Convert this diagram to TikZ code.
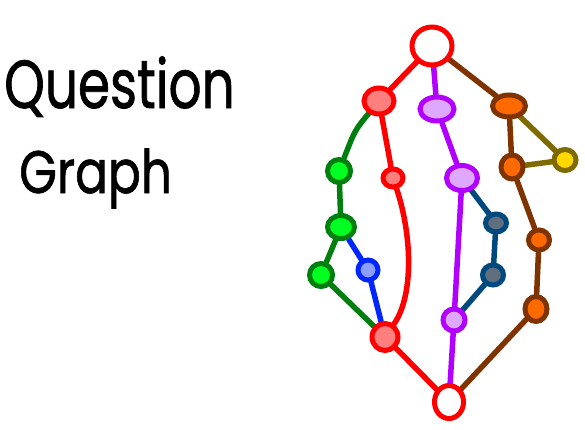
\documentclass[tikz,border=0pt]{standalone}
\usepackage{fontspec}
\setmainfont{Poppins}
\newfontfamily\handfont[FakeBold=1.2]{Poppins}
\usetikzlibrary{shapes.geometric}
\pgfdeclarelayer{bg}
\pgfsetlayers{bg,main}
\definecolor{cred}{HTML}{FF0000}
\definecolor{csalmon}{HTML}{FF7F7F}
\definecolor{cpurple}{HTML}{B200FF}
\definecolor{clilac}{HTML}{DFA8FF}
\definecolor{cbrown}{HTML}{7F3300}
\definecolor{corange}{HTML}{FF6A00}
\definecolor{cdgreen}{HTML}{007F0E}
\definecolor{cgreen}{HTML}{00FF21}
\definecolor{cblue}{HTML}{0026FF}
\definecolor{cpblue}{HTML}{8C9EFF}
\definecolor{cnavy}{HTML}{00497E}
\definecolor{cslate}{HTML}{5F6F7F}
\definecolor{colive}{HTML}{7F6A00}
\definecolor{cyellow}{HTML}{FFD800}
\tikzset{
  vtx/.style={ellipse, line width=5pt, inner sep=0pt},
  redwhite/.style={vtx, draw=cred, fill=white},
  redv/.style={vtx, draw=cred, fill=csalmon},
  purv/.style={vtx, draw=cpurple, fill=clilac},
  orv/.style={vtx, draw=cbrown, fill=corange},
  grv/.style={vtx, draw=cdgreen, fill=cgreen},
  blv/.style={vtx, draw=cblue, fill=cpblue},
  nvv/.style={vtx, draw=cnavy, fill=cslate},
  yev/.style={vtx, draw=colive, fill=cyellow},
  sz/.style 2 args={minimum width=#1pt, minimum height=#2pt},
  edge/.style={line width=5.5pt, line cap=round}
}
\begin{document}
\begin{tikzpicture}[x=1pt,y=-1pt]
\useasboundingbox (0,0) rectangle (585,429);
% title
\node[anchor=base west, inner sep=0pt] (t1) at (4,108) {\scalebox{0.76}[1]{\handfont\fontsize{68}{68}\selectfont Question}};
\node[anchor=base west, inner sep=0pt] (t2) at (19,193) {\scalebox{0.81}[1]{\handfont\fontsize{60}{60}\selectfont Graph}};
% nodes
\node[redwhite, sz={40}{38}] (top) at (432,46) {};
\node[redv, sz={30}{26}] (r1) at (379,101) {};
\node[purv, sz={34}{24}] (p1) at (437,109) {};
\node[orv, sz={33}{22}] (o1) at (509,106) {};
\node[grv, sz={23}{23}] (g1) at (339,171) {};
\node[redv, sz={20}{18}] (rs) at (393,178) {};
\node[purv, sz={31}{25}] (p2) at (462,178) {};
\node[orv, sz={22}{24}] (o2) at (512,167) {};
\node[yev, sz={22}{21}] (ye) at (565,160) {};
\node[grv, sz={27}{23}] (g2) at (341,227) {};
\node[grv, sz={23}{23}] (g3) at (321,275) {};
\node[blv, sz={20}{20}] (bl) at (368,270) {};
\node[redv, sz={26}{27}] (rb) at (385,337) {};
\node[purv, sz={22}{22}] (p3) at (454,320) {};
\node[nvv, sz={21}{18}] (d1) at (496,223) {};
\node[nvv, sz={21}{20}] (d2) at (493,275) {};
\node[orv, sz={21}{20}] (o3) at (539,240) {};
\node[orv, sz={22}{25}] (o4) at (536,309) {};
\node[redwhite, sz={29}{33}] (bot) at (449,402) {};
% edges
\begin{pgfonlayer}{bg}
\draw[edge, cred] (top) -- (r1);
\draw[edge, cpurple] (top) -- (p1);
\draw[edge, cbrown] (top) -- (o1);
\draw[edge, cdgreen] (r1) .. controls (355,130) .. (g1);
\draw[edge, cred] (r1) -- (rs);
\draw[edge, cred] (rs) .. controls (412,235) and (414,295) .. (rb);
\draw[edge, cdgreen] (g1) -- (g2);
\draw[edge, cdgreen] (g2) -- (g3);
\draw[edge, cblue] (g2) -- (bl);
\draw[edge, cblue] (bl) -- (rb);
\draw[edge, cdgreen] (g3) -- (rb);
\draw[edge, cred] (rb) -- (bot);
\draw[edge, cpurple] (p1) -- (p2);
\draw[edge, cpurple] (p2) -- (p3);
\draw[edge, cpurple] (p3) -- (bot);
\draw[edge, cnavy] (p2) -- (d1);
\draw[edge, cnavy] (d1) -- (d2);
\draw[edge, cnavy] (d2) -- (p3);
\draw[edge, cbrown] (o1) -- (o2);
\draw[edge, colive] (o1) -- (ye);
\draw[edge, colive] (o2) -- (ye);
\draw[edge, cbrown] (o2) -- (o3);
\draw[edge, cbrown] (o3) -- (o4);
\draw[edge, cbrown] (o4) -- (bot);
\end{pgfonlayer}
\end{tikzpicture}
\end{document}
